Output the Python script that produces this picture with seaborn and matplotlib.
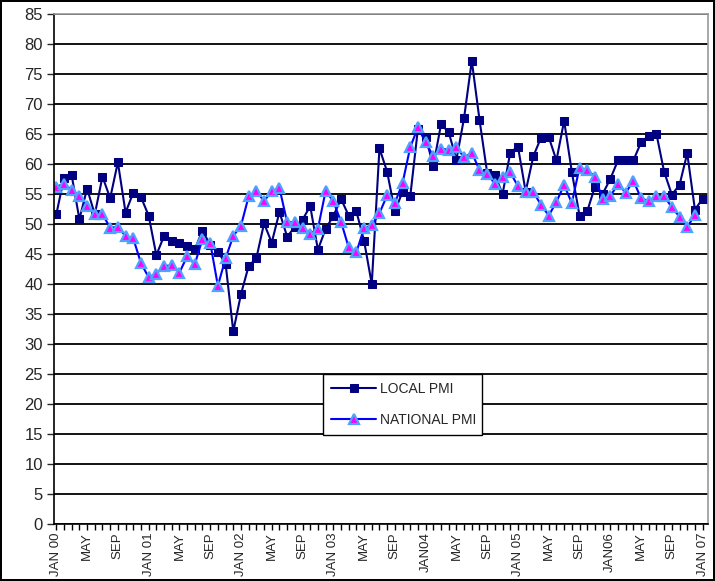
import numpy as np
import pandas as pd
import matplotlib
matplotlib.use("Agg")
import matplotlib.pyplot as plt
import seaborn as sns

local_pmi = [51.6, 57.7, 58.1, 50.8, 55.9, 51.6, 57.9, 54.3, 60.3, 51.9,
             55.2, 54.5, 51.4, 44.8, 48.0, 47.2, 46.8, 46.3, 45.8, 48.9,
             46.5, 45.4, 43.4, 32.1, 38.3, 43.0, 44.3, 50.1, 46.9, 52.0,
             47.9, 49.5, 50.7, 53.0, 45.7, 49.2, 51.3, 54.2, 51.4, 52.1,
             47.2, 40.0, 62.6, 58.7, 52.1, 55.4, 54.6, 65.9, 64.5, 59.7,
             66.6, 65.3, 60.7, 67.7, 77.2, 67.4, 58.5, 58.2, 55.0, 61.9,
             62.9, 55.4, 61.3, 64.4, 64.5, 60.6, 67.2, 58.7, 51.4, 52.1,
             56.2, 55.0, 57.5, 60.6, 60.6, 60.6, 63.6, 64.7, 65.0, 58.7,
             54.9, 56.5, 61.8, 52.4, 54.2]
national_pmi = [56.2, 56.7, 55.7, 54.7, 53.0, 51.6, 51.6, 49.4, 49.5, 48.0,
                47.6, 43.5, 41.1, 41.7, 43.0, 43.1, 41.9, 44.6, 43.3, 47.5,
                46.9, 39.7, 44.3, 48.0, 49.7, 54.6, 55.5, 53.8, 55.5, 56.0,
                50.3, 50.3, 49.4, 48.4, 49.2, 55.5, 53.8, 50.4, 46.1, 45.3,
                49.3, 49.8, 51.8, 54.8, 53.5, 56.8, 62.8, 66.1, 63.6, 61.3,
                62.5, 62.4, 62.8, 61.1, 61.9, 59.0, 58.4, 56.7, 57.8, 58.6,
                56.3, 55.3, 55.3, 53.2, 51.4, 53.7, 56.5, 53.5, 59.4, 59.0,
                57.9, 54.2, 54.6, 56.7, 55.2, 57.2, 54.3, 53.8, 54.7, 54.6,
                52.8, 51.2, 49.5, 51.5, np.nan]
tick_labels = ["JAN 00", "MAY", "SEP", "JAN 01", "MAY", "SEP", "JAN 02", "MAY",
               "SEP", "JAN 03", "MAY", "SEP", "JAN04", "MAY", "SEP", "JAN 05",
               "MAY", "SEP", "JAN06", "MAY", "SEP", "JAN 07"]

months = np.arange(len(local_pmi))
df = pd.DataFrame({"month": months, "LOCAL PMI": local_pmi, "NATIONAL PMI": national_pmi})

sns.set_style("white")
plt.rcParams["font.family"] = ["Liberation Sans", "DejaVu Sans"]

fig = plt.figure(figsize=(7.15, 5.81), dpi=100)
fig.patch.set_edgecolor("black")
fig.patch.set_linewidth(1.5)
ax = fig.add_axes([54/715, 1-524/581, (708-54)/715, (524-14)/581])

sns.lineplot(data=df, x="month", y="LOCAL PMI", ax=ax, color="#000080",
             marker="s", markersize=5.8, markerfacecolor="#000080",
             markeredgecolor="#000080", linewidth=1.5, label="LOCAL PMI")
sns.lineplot(data=df, x="month", y="NATIONAL PMI", ax=ax, color="#0000FF",
             marker="^", markersize=7, markerfacecolor="#FF00FF",
             markeredgecolor="#4DA3FF", markeredgewidth=1.6, linewidth=1.5,
             label="NATIONAL PMI")

ax.set_ylim(0, 85)
ax.set_xlim(-0.3, 84.7)
ax.set_yticks(np.arange(0, 86, 5))
ax.yaxis.grid(True, color="black", linewidth=1.3)
ax.xaxis.grid(False)
ax.set_axisbelow(True)
ax.set_xticks(np.arange(0, 85, 4))
ax.set_xticklabels(tick_labels, rotation=90, fontsize=9.5)
ax.set_xticks(np.arange(0, 85, 1), minor=True)
ax.tick_params(axis="x", which="both", bottom=True, direction="out", length=4,
               width=1, color="black", pad=2)
ax.tick_params(axis="y", left=True, direction="out", length=5, width=1,
               labelsize=12, pad=3)
ax.set_xlabel("")
ax.set_ylabel("")
for s in ["left", "bottom"]:
    ax.spines[s].set_color("black")
    ax.spines[s].set_linewidth(1.2)
for s in ["right", "top"]:
    ax.spines[s].set_color("#999999")
    ax.spines[s].set_linewidth(1.2)

leg = ax.legend(loc="lower left", bbox_to_anchor=((323-54)/654, (524-435)/510,
                (482-323)/654, (435-370)/510), mode="expand", fontsize=10,
                frameon=True, fancybox=False, borderpad=0.6, labelspacing=1.2,
                handlelength=3.2, handletextpad=0.3, borderaxespad=0)
leg.get_frame().set_edgecolor("black")
leg.get_frame().set_linewidth(1)
leg.get_frame().set_alpha(1)

fig.savefig("out.png", dpi=100)
